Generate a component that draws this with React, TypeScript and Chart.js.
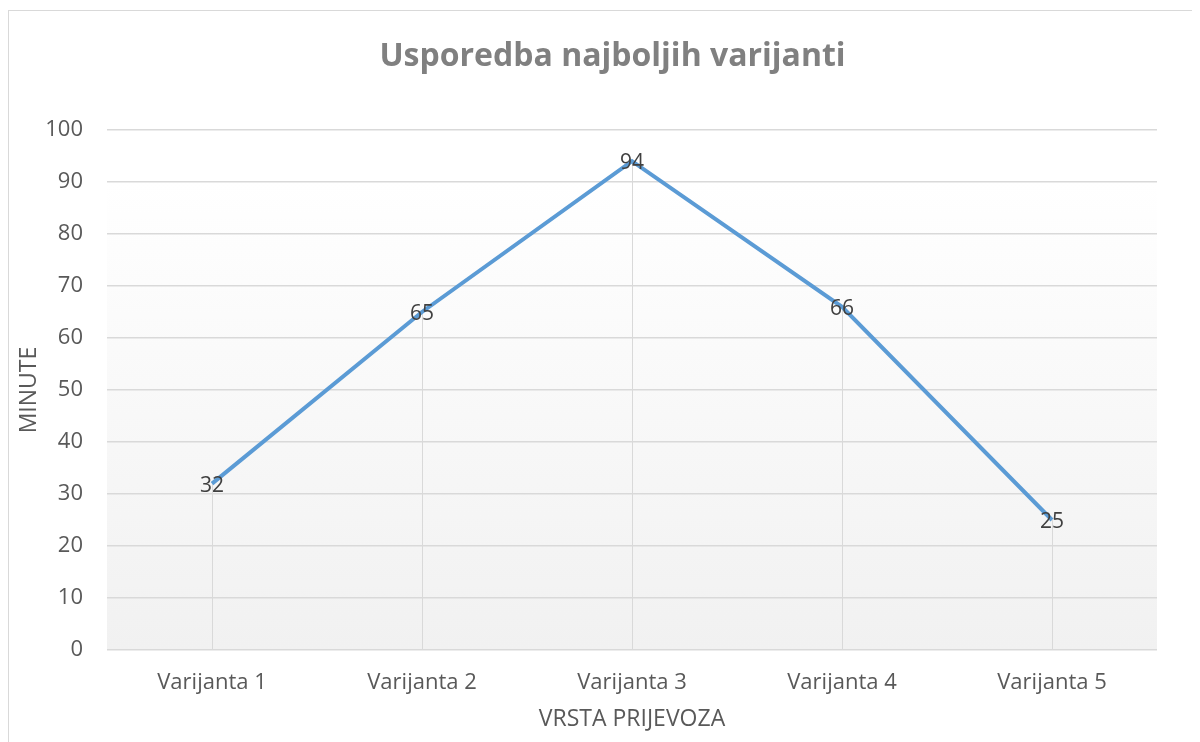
import React, { useEffect, useRef } from "react";
import { Chart, registerables } from "chart.js";

Chart.register(...registerables);

const categories = ["Varijanta 1", "Varijanta 2", "Varijanta 3", "Varijanta 4", "Varijanta 5"];
const minutes = [32, 65, 94, 66, 25];
const chartTitle = "Usporedba najboljih varijanti";
const xTitle = "VRSTA PRIJEVOZA";
const yTitle = "MINUTE";

const FONT = "'Open Sans', 'DejaVu Sans', sans-serif";

const bgPlugin = {
  id: "plotBg",
  beforeDraw(chart: any) {
    const { ctx, chartArea } = chart;
    if (!chartArea) return;
    const g = ctx.createLinearGradient(0, chartArea.top, 0, chartArea.bottom);
    g.addColorStop(0, "#ffffff");
    g.addColorStop(0.1, "#ffffff");
    g.addColorStop(1, "#f1f1f1");
    ctx.save();
    ctx.fillStyle = g;
    ctx.fillRect(chartArea.left, chartArea.top, chartArea.right - chartArea.left, chartArea.bottom - chartArea.top);
    ctx.restore();
  },
};

const titlePlugin = {
  id: "chartTitleText",
  afterDraw(chart: any) {
    const { ctx } = chart;
    ctx.save();
    ctx.fillStyle = "#808080";
    ctx.font = `bold 32px ${FONT}`;
    ctx.textAlign = "center";
    ctx.textBaseline = "middle";
    ctx.fillText(chartTitle, chart.width / 2 + 8, 46);
    ctx.restore();
  },
};

const dropLinePlugin = {
  id: "dropLines",
  beforeDatasetsDraw(chart: any) {
    const { ctx } = chart;
    const y = chart.scales.y;
    const meta = chart.getDatasetMeta(0);
    ctx.save();
    ctx.strokeStyle = "#d9d9d9";
    ctx.lineWidth = 1;
    meta.data.forEach((pt: any) => {
      const x = Math.round(pt.x) + 0.5;
      ctx.beginPath();
      ctx.moveTo(x, pt.y);
      ctx.lineTo(x, y.getPixelForValue(0));
      ctx.stroke();
    });
    ctx.restore();
  },
};

const labelPlugin = {
  id: "dataLabels",
  afterDatasetsDraw(chart: any) {
    const { ctx } = chart;
    const meta = chart.getDatasetMeta(0);
    const data = chart.data.datasets[0].data;
    ctx.save();
    ctx.fillStyle = "#404040";
    ctx.font = `21px ${FONT}`;
    ctx.textAlign = "center";
    ctx.textBaseline = "middle";
    meta.data.forEach((pt: any, i: number) => {
      ctx.fillText(String(data[i]), pt.x, pt.y + 2);
    });
    ctx.restore();
  },
};

export default function App() {
  const ref = useRef<HTMLCanvasElement | null>(null);
  useEffect(() => {
    if (!ref.current) return;
    const chart = new Chart(ref.current, {
      type: "line",
      data: {
        labels: categories,
        datasets: [
          {
            data: minutes,
            borderColor: "#5b9bd5",
            borderWidth: 4,
            pointRadius: 0,
            tension: 0,
            fill: false,
          },
        ],
      },
      options: {
        responsive: false,
        animation: false,
        layout: { padding: { left: 0, right: 43, top: 119, bottom: 0 } },
        plugins: {
          legend: { display: false },
          tooltip: { enabled: false },
          title: { display: false },
        },
        scales: {
          x: {
            offset: true,
            grid: { display: false, drawTicks: false },
            border: { display: false },
            ticks: { color: "#595959", font: { family: FONT, size: 22 }, padding: 20 },
            title: {
              display: true,
              text: xTitle,
              color: "#595959",
              font: { family: FONT, size: 23, lineHeight: 1.2 },
              padding: { top: 0, bottom: 9 },
            },
            afterFit: (s: any) => { s.height = 92; },
          },
          y: {
            min: 0,
            max: 100,
            ticks: { stepSize: 10, color: "#595959", font: { family: FONT, size: 22 }, padding: 24 },
            grid: { color: "#d9d9d9", lineWidth: 1.5, drawTicks: false },
            border: { display: false },
            title: {
              display: true,
              text: yTitle,
              color: "#595959",
              font: { family: FONT, size: 23, lineHeight: 1.2 },
              padding: { top: 7, bottom: 0 },
            },
            afterFit: (s: any) => { s.width = 98; },
          },
        },
      },
      plugins: [bgPlugin, dropLinePlugin, labelPlugin, titlePlugin],
    });
    return () => chart.destroy();
  }, []);

  return (
    <div style={{ position: "relative", width: 1192, height: 734, overflow: "hidden" }}>
      <div
        style={{
          position: "absolute",
          left: 0,
          top: 2,
          width: 1260,
          height: 800,
          border: "1px solid #d9d9d9",
          background: "#ffffff",
        }}
      >
        <canvas ref={ref} width={1191} height={731} style={{ display: "block" }} />
      </div>
    </div>
  );
}
